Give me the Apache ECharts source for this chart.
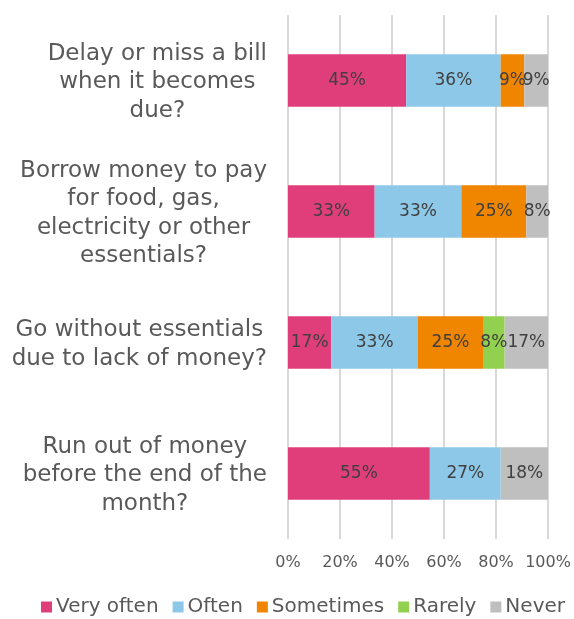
<!DOCTYPE html>
<html>
<head>
<meta charset="utf-8">
<script src="https://cdn.jsdelivr.net/npm/echarts@6/dist/echarts.min.js"></script>
<style>
  html, body { margin: 0; padding: 0; background: #fff; }
  #chart { width: 574px; height: 619px; }
</style>
</head>
<body>
<div id="chart"></div>
<script>
// Survey questions (top to bottom)
const categories = [
  'Delay or miss a bill\nwhen it becomes\ndue?',
  'Borrow money to pay\nfor food, gas,\nelectricity or other\nessentials?',
  'Go without essentials\ndue to lack of money?',
  'Run out of money\nbefore the end of the\nmonth?'
];

// Share of respondents per answer, in percent
const veryOften = [45.45, 33.33, 16.67, 54.55];
const often     = [36.36, 33.33, 33.33, 27.27];
const sometimes = [9.09, 25.00, 25.00, 0];
const rarely    = [0, 0, 8.33, 0];
const never     = [9.09, 8.33, 16.67, 18.18];

const seriesNames = ['Very often', 'Often', 'Sometimes', 'Rarely', 'Never'];
const seriesData = [veryOften, often, sometimes, rarely, never];
const colors = ['#E03E7B', '#8EC8E8', '#F08500', '#92D050', '#BFBFBF'];

const xTicks = [0, 20, 40, 60, 80, 100];

const font = 'DejaVu Sans, sans-serif';

const chart = echarts.init(document.getElementById('chart'));
chart.setOption({
  animation: false,
  color: colors,
  textStyle: { fontFamily: font },
  grid: { left: 288, right: 26, top: 15, bottom: 80, containLabel: false },
  xAxis: {
    type: 'value',
    min: xTicks[0],
    max: xTicks[xTicks.length - 1],
    interval: 20,
    axisLine: { show: false },
    axisTick: { show: false },
    splitLine: { show: true, lineStyle: { color: '#D9D9D9', width: 2 } },
    axisLabel: {
      formatter: v => v + '%',
      fontSize: 16,
      color: '#595959',
      fontFamily: font,
      margin: 16
    }
  },
  yAxis: {
    type: 'category',
    data: categories,
    inverse: true,
    axisLine: { show: false },
    axisTick: { show: false },
    axisLabel: {
      margin: 21,
      align: 'right',
      padding: [4, 0, 0, 0],
      formatter: v => v.split('\n').map(l => '{c|' + l + '}').join('\n'),
      rich: {
        c: { align: 'center', fontSize: 23, lineHeight: 28.5, color: '#595959', fontFamily: font }
      }
    }
  },
  legend: {
    bottom: -3,
    left: 36,
    itemWidth: 11,
    itemHeight: 11,
    itemGap: 14,
    icon: 'rect',
    textStyle: { fontSize: 20, color: '#595959', fontFamily: font, padding: [0, 0, 0, -1] },
    data: seriesNames
  },
  series: seriesNames.map((name, i) => ({
    name: name,
    type: 'bar',
    stack: 'total',
    barCategoryGap: '60%',
    data: seriesData[i].map(v => (v === 0 ? null : v)),
    itemStyle: { color: colors[i] },
    label: {
      show: true,
      position: 'inside',
      formatter: p => Math.round(p.value) + '%',
      fontSize: 17,
      color: '#404040',
      fontFamily: font
    }
  }))
});
</script>
</body>
</html>
